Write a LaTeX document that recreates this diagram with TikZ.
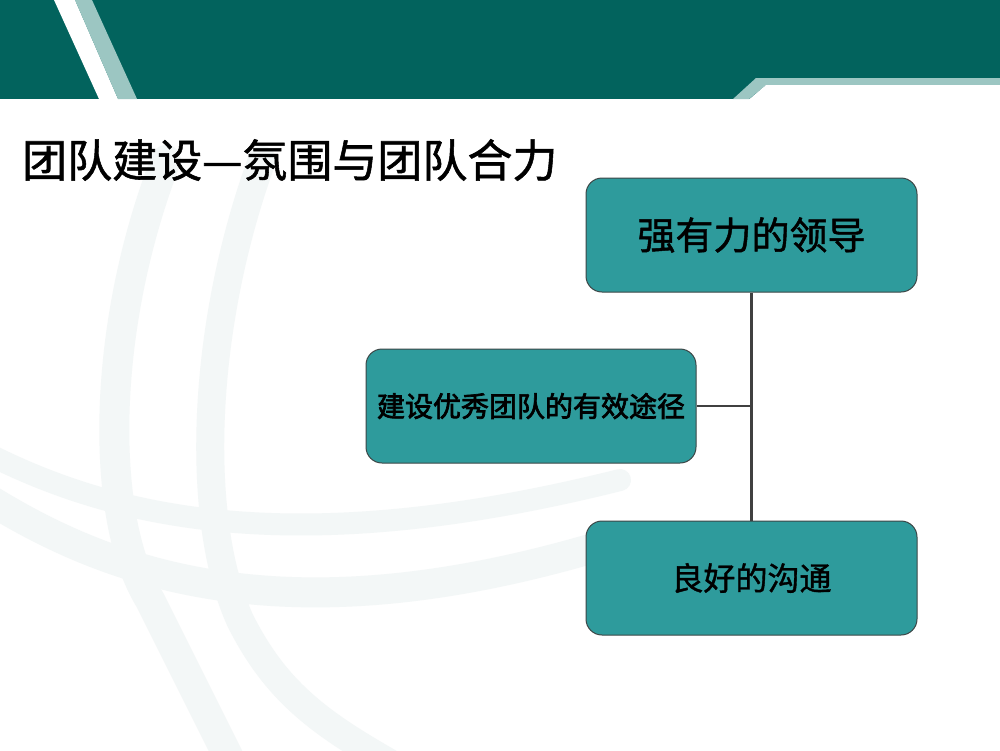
\documentclass[tikz,border=0pt]{standalone}
\usepackage{fontspec}
\newfontfamily\cjk[FakeBold=1.2]{Noto Sans CJK SC}
\newfontfamily\cjkb[FakeBold=2.5]{Noto Sans CJK SC}
\definecolor{darkteal}{HTML}{02635D}
\definecolor{lightteal}{HTML}{9CC6C2}
\definecolor{boxteal}{HTML}{2E9B9C}
\definecolor{boxline}{HTML}{3C4646}
\definecolor{conncol}{HTML}{404040}
\definecolor{wm}{HTML}{F3F7F7}
\tikzset{
  box/.style={draw=boxline, line width=1pt, fill=boxteal, rounded corners=16pt,
              minimum width=331pt, minimum height=114pt, inner sep=0pt, text=black},
  conn/.style={draw=conncol, line width=2.5pt},
  wmband/.style={draw=wm, line cap=round}
}
\begin{document}
\begin{tikzpicture}[x=1pt,y=-1pt]
\useasboundingbox (0,0) rectangle (1000,750);
\fill[white] (0,0) rectangle (1000,750);
% faint watermark bands
\draw[wmband, line width=30pt] (166,160) .. controls (100,330) and (100,520) .. (150,600) .. controls (180,660) and (200,700) .. (230,760);
\draw[wmband, line width=28pt] (262,160) .. controls (200,330) and (195,520) .. (240,620) .. controls (280,700) and (330,730) .. (420,780);
\draw[wmband, line width=22pt] (-10,455) .. controls (120,520) and (300,560) .. (620,480);
\draw[wmband, line width=30pt] (-10,500) .. controls (120,580) and (300,640) .. (620,540);
% header
\fill[darkteal] (0,0) rectangle (1000,99);
\fill[white] (54,0) -- (75,0) -- (118,99) -- (99,99) -- cycle;
\fill[lightteal] (75,0) -- (92,0) -- (137,99) -- (118,99) -- cycle;
\fill[lightteal] (733,99) -- (756,78) -- (1000,78) -- (1000,85) -- (766,85) -- (749,99) -- cycle;
\fill[white] (749,99.5) -- (766,85) -- (1000,85) -- (1000,99.5) -- cycle;
% title
\node[anchor=west, inner sep=0pt, text=black] (title) at (22,160)
  {\cjk\fontsize{45}{50}\selectfont 团队建设—氛围与团队合力};
% boxes
\node[box] (lead) at (751.5,235) {\cjk\fontsize{38}{42}\selectfont 强有力的领导};
\node[box, minimum width=330pt] (path) at (531,406) {\cjkb\fontsize{28}{32}\selectfont 建设优秀团队的有效途径};
\node[box] (comm) at (751.5,578) {\cjk\fontsize{32}{36}\selectfont 良好的沟通};
\coordinate (j) at (lead.south |- path.east);
\draw[conn] (lead.south) -- (comm.north);
\draw[conn] (path.east) -- (j);
\end{tikzpicture}
\end{document}
